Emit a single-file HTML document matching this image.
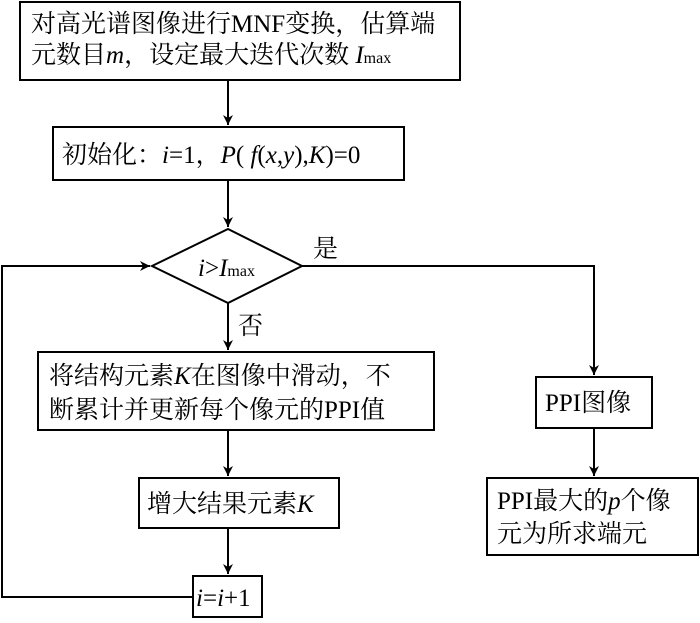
<!DOCTYPE html>
<html><head><meta charset="utf-8"><style>
body{margin:0;background:#fff;width:700px;height:618px;overflow:hidden}
svg text{font-family:"Liberation Serif","Noto Serif CJK SC","Noto Sans CJK SC",serif;font-size:25px;fill:#000}
.i{font-style:italic}
</style></head><body>
<svg width="700" height="618" viewBox="0 0 700 618">
<defs><marker id="a" markerWidth="12" markerHeight="12" refX="10" refY="5" orient="auto" markerUnits="userSpaceOnUse"><path d="M0,0 L10,5 L0,10 L3,5 Z" fill="#000"/></marker></defs>
<g fill="none" stroke="#000" stroke-width="2">
<rect x="20" y="2" width="440" height="78"/>
<rect x="53" y="127" width="351" height="53"/>
<polygon points="152,266 228,229 302,266 228,303"/>
<rect x="38" y="352" width="396" height="78"/>
<rect x="139" y="478" width="200" height="50"/>
<rect x="193" y="576" width="69" height="41"/>
<rect x="536" y="377" width="116" height="51"/>
<rect x="487" y="478" width="211" height="77"/>
<line x1="228" y1="80" x2="228" y2="125" marker-end="url(#a)"/>
<line x1="228" y1="180" x2="228" y2="227" marker-end="url(#a)"/>
<line x1="228" y1="303" x2="228" y2="350" marker-end="url(#a)"/>
<line x1="228" y1="430" x2="228" y2="476" marker-end="url(#a)"/>
<line x1="228" y1="528" x2="228" y2="574" marker-end="url(#a)"/>
<polyline points="302,266 594,266 594,375" marker-end="url(#a)"/>
<line x1="594" y1="428" x2="594" y2="476" marker-end="url(#a)"/>
<polyline points="193,597 2,597 2,266 150,266" marker-end="url(#a)"/>
</g>
<text x="31" y="32" font-size="26">对高光谱图像进行MNF变换，估算端</text>
<text x="31" y="63" font-size="26">元数目<tspan class="i">m</tspan>，设定最大迭代次数 <tspan class="i">I</tspan><tspan font-size="16">max</tspan></text>
<text x="62" y="163">初始化：<tspan class="i">i</tspan>=1，<tspan class="i">P</tspan>( <tspan class="i">f</tspan>(<tspan class="i">x</tspan>,<tspan class="i">y</tspan>),<tspan class="i">K</tspan>)=0</text>
<text x="198" y="276"><tspan class="i">i</tspan>&gt;<tspan class="i">I</tspan><tspan font-size="16">max</tspan></text>
<text x="313" y="257">是</text>
<text x="238" y="334">否</text>
<text x="49" y="384">将结构元素<tspan class="i">K</tspan>在图像中滑动，不</text>
<text x="49" y="418">断累计并更新每个像元的PPI值</text>
<text x="147" y="512">增大结果元素<tspan class="i">K</tspan></text>
<text x="196" y="606"><tspan class="i">i</tspan>=<tspan class="i">i</tspan>+1</text>
<text x="545" y="411">PPI图像</text>
<text x="497" y="509">PPI最大的<tspan class="i">p</tspan>个像</text>
<text x="497" y="542">元为所求端元</text>
</svg>
</body></html>
